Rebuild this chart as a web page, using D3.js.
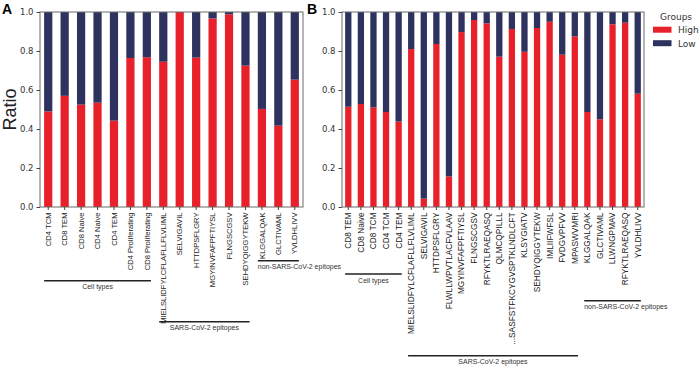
<!DOCTYPE html>
<html>
<head>
<meta charset="utf-8">
<script src="https://cdn.jsdelivr.net/npm/d3@7"></script>
<style>
  body { margin: 0; background: #fff; }
  svg { display: block; }
</style>
</head>
<body>
<svg id="chart" width="700" height="369"></svg>
<script>
// ---- data ----
const catsA = ["CD4 TCM", "CD8 TEM", "CD8 Naive", "CD4 Naive", "CD4 TEM", "CD4 Proliferating", "CD8 Proliferating",
  "MIELSLIDFYLCFLAFLLFLVLIML", "SELVIGAVIL", "HTTDPSFLGRY", "MGYINVFAFPFTIYSL", "FLNGSCGSV", "SEHDYQIGGYTEKW",
  "KLGGALQAK", "GLCTIVAML", "YVLDHLIVV"];
const highA = [0.49, 0.57, 0.525, 0.535, 0.443, 0.764, 0.768, 0.745, 1.0, 0.766, 0.967, 0.988, 0.725, 0.503, 0.417, 0.653];
const lowA  = [0.51, 0.43, 0.475, 0.465, 0.557, 0.236, 0.232, 0.255, 0.0, 0.234, 0.033, 0.012, 0.275, 0.497, 0.583, 0.347];

const catsB = ["CD8 TEM", "CD8 Naive", "CD8 TCM", "CD4 TCM", "CD4 TEM",
  "MIELSLIDFYLCFLAFLLFLVLIML", "SELVIGAVIL", "HTTDPSFLGRY", "FLWLLWPVTLACFVLAAV", "MGYINVFAFPFTIYSL", "FLNGSCGSV",
  "RFYKTLRAEQASQ", "QLMCQPILLL", "...SASFSTFKCYGVSPTKLNDLCFT", "KLSYGIATV", "SEHDYQIGGYTEKW", "IMLIIFWFSL",
  "FVDGVPFVV", "MPASWVMRI", "KLGGALQAK", "GLCTIVAML", "LLWNGPMAV", "RFYKTLRAEQASQ", "YVLDHLIVV"];
const highB = [0.514, 0.528, 0.511, 0.487, 0.438, 0.81, 0.043, 0.836, 0.157, 0.897, 0.959, 0.942, 0.771, 0.913,
  0.796, 0.918, 0.95, 0.781, 0.875, 0.487, 0.45, 0.937, 0.945, 0.581];
const lowB  = [0.486, 0.472, 0.489, 0.513, 0.562, 0.19, 0.957, 0.164, 0.843, 0.103, 0.041, 0.058, 0.229, 0.087,
  0.204, 0.082, 0.05, 0.219, 0.125, 0.513, 0.55, 0.063, 0.055, 0.419];

const groupsA = [
  { name: "Cell types", from: 0, to: 6 },
  { name: "SARS-CoV-2 epitopes", from: 7, to: 12 },
  { name: "non-SARS-CoV-2 epitopes", from: 13, to: 15 }
];
const groupsB = [
  { name: "Cell types", from: 0, to: 4 },
  { name: "SARS-CoV-2 epitopes", from: 5, to: 18 },
  { name: "non-SARS-CoV-2 epitopes", from: 19, to: 23 }
];

const keys = ["High", "Low"];
const yTicks = [0, 0.2, 0.4, 0.6, 0.8, 1.0];
const colors = { High: "#E8202A", Low: "#2E325E" };

// ---- drawing ----
const svg = d3.select("#chart");
const yTop = 12, yBottom = 207;
const y = d3.scaleLinear().domain([0, 1]).range([yBottom, yTop]);

function panel(opts) {
  const { cats, high, low, groups, x0, x1, letter, letterX, fontSize, lineY, anchors } = opts;
  const x = d3.scaleBand().domain(d3.range(cats.length)).range([x0, x1])
    .paddingInner(0.5).paddingOuter(0.25);
  const rows = cats.map((c, i) => ({ i, High: high[i], Low: low[i] }));
  const series = d3.stack().keys(keys)(rows);

  const g = svg.append("g");

  g.selectAll("g.layer").data(series).join("g")
    .attr("class", "layer")
    .attr("fill", d => colors[d.key])
    .selectAll("rect").data(d => d).join("rect")
    .attr("x", d => x(d.data.i))
    .attr("width", x.bandwidth())
    .attr("y", d => y(d[1]))
    .attr("height", d => y(d[0]) - y(d[1]));

  // frame
  g.append("rect")
    .attr("x", x0).attr("y", yTop)
    .attr("width", x1 - x0).attr("height", yBottom - yTop)
    .attr("fill", "none").attr("stroke", "#6a6a6a").attr("stroke-width", 1);

  const yAxis = g.append("g").attr("transform", `translate(${x0},0)`)
    .call(d3.axisLeft(y).tickValues(yTicks).tickFormat(d3.format(".1f")).tickSize(3.5).tickPadding(3));
  yAxis.select(".domain").remove();
  yAxis.selectAll("line").attr("stroke", "#444");
  yAxis.selectAll("text").attr("font-family", "DejaVu Sans").attr("font-size", 8.5).attr("fill", "#333");

  const xAxis = g.append("g").attr("transform", `translate(0,${yBottom})`)
    .call(d3.axisBottom(x).tickFormat(i => cats[i]).tickSize(3).tickPadding(0));
  xAxis.select(".domain").remove();
  xAxis.selectAll("line").attr("stroke", "#444");
  xAxis.selectAll("text")
    .attr("font-family", "Liberation Sans, Arial, sans-serif")
    .attr("font-size", fontSize)
    .attr("fill", "#222")
    .attr("text-anchor", "end")
    .attr("transform", "rotate(-90)")
    .attr("x", -5.5).attr("y", 0).attr("dy", "0.35em");

  // group brackets
  groups.forEach((grp, k) => {
    const a = x(grp.from), b = x(grp.to) + x.bandwidth();
    const ly = lineY[k];
    g.append("line")
      .attr("x1", a).attr("x2", b).attr("y1", ly).attr("y2", ly)
      .attr("stroke", "#222").attr("stroke-width", 1.6);
    g.append("text")
      .attr("x", anchors[k] === "start" ? a : (a + b) / 2)
      .attr("y", ly + 8.5)
      .attr("text-anchor", anchors[k])
      .attr("font-family", "Liberation Sans, Arial, sans-serif")
      .attr("font-size", 7)
      .attr("fill", "#333")
      .text(grp.name);
  });

  svg.append("text")
    .attr("x", letterX).attr("y", 14)
    .attr("font-family", "Liberation Sans, Arial, sans-serif")
    .attr("font-weight", "bold").attr("font-size", 14)
    .text(letter);
}

panel({ cats: catsA, high: highA, low: lowA, groups: groupsA, x0: 40, x1: 303,
  letter: "A", letterX: 2, fontSize: 7.6, lineY: [280.7, 321.7, 260.7], anchors: ["middle", "middle", "start"] });
panel({ cats: catsB, high: highB, low: lowB, groups: groupsB, x0: 342, x1: 644,
  letter: "B", letterX: 307, fontSize: 8.3, lineY: [274, 355.7, 300.7], anchors: ["middle", "middle", "start"] });

// y label
svg.append("text")
  .attr("transform", `translate(16,${(yTop + yBottom) / 2}) rotate(-90)`)
  .attr("text-anchor", "middle")
  .attr("font-family", "Liberation Sans, Arial, sans-serif")
  .attr("font-size", 18)
  .attr("fill", "#222")
  .text("Ratio");

// legend
const legend = svg.append("g").attr("font-family", "DejaVu Sans").attr("font-size", 9).attr("fill", "#333");
legend.append("text").attr("x", 676).attr("y", 20).attr("text-anchor", "middle").text("Groups");
keys.forEach((k, i) => {
  legend.append("rect").attr("x", 653).attr("y", 26.7 + i * 13.5).attr("width", 18.5).attr("height", 6)
    .attr("fill", colors[k]);
  legend.append("text").attr("x", 678).attr("y", 33 + i * 13.5).text(k);
});
</script>
</body>
</html>
